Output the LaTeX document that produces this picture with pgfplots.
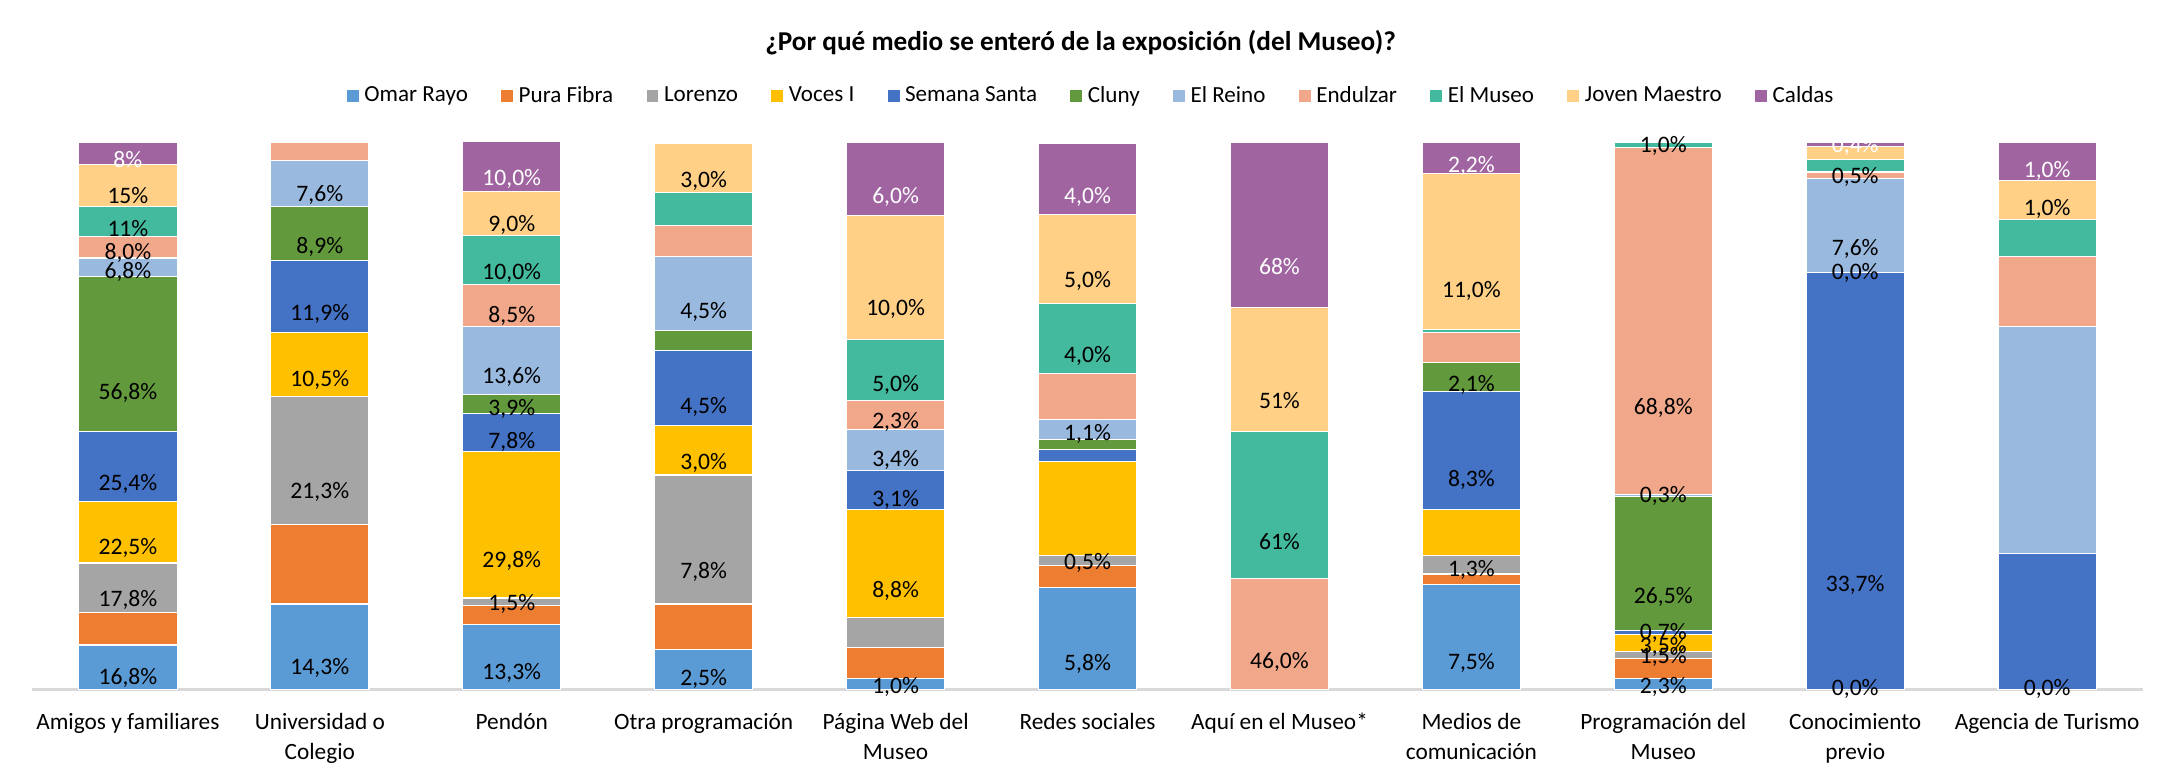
\documentclass[border=0pt]{standalone}
\usepackage{pgfplots}
\pgfplotsset{compat=1.18}
\usepackage{fontspec}
\setmainfont{Carlito}
\definecolor{cOmar}{HTML}{5B9BD5}
\definecolor{cPura}{HTML}{ED7D31}
\definecolor{cLor}{HTML}{A5A5A5}
\definecolor{cVoc}{HTML}{FFC000}
\definecolor{cSem}{HTML}{4472C4}
\definecolor{cClu}{HTML}{63993D}
\definecolor{cRei}{HTML}{99B9DE}
\definecolor{cEnd}{HTML}{F1A88A}
\definecolor{cMus}{HTML}{43B99D}
\definecolor{cJov}{HTML}{FFD086}
\definecolor{cCal}{HTML}{A065A0}
\definecolor{axgray}{HTML}{D9D9D9}
\begin{document}
\begin{tikzpicture}
\path[use as bounding box] (0,0) rectangle (780.1pt,279pt);
\begin{axis}[
  at={(11.5pt,30.85pt)}, anchor=south west,
  scale only axis, width=760pt, height=196.8pt,
  ybar stacked, bar width=35.4pt,
  xmin=-0.5, xmax=10.5, ymin=0, ymax=100,
  clip=false,
  axis y line=none,
  axis x line*=bottom,
  axis line style={draw=axgray, line width=0.9pt, -},
  xtick={0,...,10},
  xticklabels={Amigos y familiares, Universidad o\\Colegio, Pendón, Otra programación, Página Web del\\Museo, Redes sociales, Aquí en el Museo*, Medios de\\comunicación, Programación del\\Museo, Conocimiento\\previo, Agencia de Turismo},
  major tick length=0pt,
  xticklabel style={align=center, font=\fontsize{8.4}{10.8}\selectfont, yshift=-5pt, text=black},
  nodes near coords,
  point meta=explicit symbolic,
  visualization depends on=rawy \as \rawy,
  every node near coord/.append style={font=\fontsize{8.5}{10}\selectfont, anchor=center, yshift={-0.492pt*\rawy}, text=black, inner sep=0pt},
  legend style={at={(0.5026,1.085)}, anchor=center, draw=none, fill=none,
    legend columns=-1, font=\fontsize{8.3}{10}\selectfont,
    /tikz/every even column/.append style={column sep=10pt},
    /tikz/every odd column/.append style={column sep=0pt}},
  legend image code/.code={\fill[#1,draw=none] (0pt,-2.15pt) rectangle (4.3pt,2.15pt);},
  every axis plot/.append style={draw=white, line width=0.4pt},
]
% Omar Rayo
\addplot[fill=cOmar] coordinates {(0,8.1)[16,8\%] (1,15.6)[14,3\%] (2,11.8)[13,3\%] (3,7.3)[2,5\%] (4,2.0)[1,0\%] (5,18.6)[5,8\%] (6,0)[{}] (7,19.2)[7,5\%] (8,1.9)[2,3\%] (9,0.01)[0,0\%] (10,0.01)[0,0\%]};
% Pura Fibra
\addplot[fill=cPura] coordinates {(0,6.0)[{}] (1,14.6)[{}] (2,3.5)[{}] (3,8.3)[{}] (4,5.6)[{}] (5,4.1)[{}] (6,0)[{}] (7,1.9)[{}] (8,3.7)[{}] (9,0)[{}] (10,0)[{}]};
% Lorenzo
\addplot[fill=cLor] coordinates {(0,9.0)[17,8\%] (1,23.4)[21,3\%] (2,1.4)[1,5\%] (3,23.6)[7,8\%] (4,5.5)[{}] (5,1.7)[0,5\%] (6,0)[{}] (7,3.3)[1,3\%] (8,1.3)[1,5\%] (9,0)[{}] (10,0)[{}]};
% Voces I
\addplot[fill=cVoc] coordinates {(0,11.2)[22,5\%] (1,11.7)[10,5\%] (2,26.8)[29,8\%] (3,9.1)[3,0\%] (4,19.8)[8,8\%] (5,17.2)[{}] (6,0)[{}] (7,8.5)[{}] (8,3.2)[3,5\%] (9,0)[{}] (10,0)[{}]};
% Semana Santa
\addplot[fill=cSem] coordinates {(0,12.8)[25,4\%] (1,13.1)[11,9\%] (2,7.0)[7,8\%] (3,13.6)[4,5\%] (4,7.1)[3,1\%] (5,2.3)[{}] (6,0)[{}] (7,21.5)[8,3\%] (8,0.7)[0,7\%] (9,76.2)[33,7\%] (10,24.9)[{}]};
% Cluny
\addplot[fill=cClu] coordinates {(0,28.4)[56,8\%] (1,9.9)[8,9\%] (2,3.5)[3,9\%] (3,3.7)[{}] (4,0)[{}] (5,1.8)[{}] (6,0)[{}] (7,5.4)[2,1\%] (8,24.5)[26,5\%] (9,0.01)[0,0\%] (10,0)[{}]};
% El Reino
\addplot[fill=cRei] coordinates {(0,3.4)[6,8\%] (1,8.5)[7,6\%] (2,12.3)[13,6\%] (3,13.6)[4,5\%] (4,7.6)[3,4\%] (5,3.7)[1,1\%] (6,0)[{}] (7,0)[{}] (8,0.3)[0,3\%] (9,17.3)[7,6\%] (10,41.5)[{}]};
% Endulzar
\addplot[fill=cEnd] coordinates {(0,4.0)[8,0\%] (1,3.3)[{}] (2,7.7)[8,5\%] (3,5.6)[{}] (4,5.2)[2,3\%] (5,8.3)[{}] (6,20.2)[46,0\%] (7,5.4)[{}] (8,63.5)[68,8\%] (9,1.1)[0,5\%] (10,12.7)[{}]};
% El Museo
\addplot[fill=cMus] coordinates {(0,5.5)[11\%] (1,0)[{}] (2,9.0)[10,0\%] (3,6.0)[{}] (4,11.2)[5,0\%] (5,12.9)[4,0\%] (6,27.0)[61\%] (7,0.6)[{}] (8,0.9)[1,0\%] (9,2.3)[{}] (10,6.9)[{}]};
% Joven Maestro
\addplot[fill=cJov] coordinates {(0,7.6)[15\%] (1,0)[{}] (2,8.1)[9,0\%] (3,9.1)[3,0\%] (4,22.6)[10,0\%] (5,16.3)[5,0\%] (6,22.6)[51\%] (7,28.6)[11,0\%] (8,0)[{}] (9,2.3)[{}] (10,7.1)[1,0\%]};
% Caldas
\addplot[fill=cCal, every node near coord/.append style={text=white}] coordinates {(0,4.0)[8\%] (1,0)[{}] (2,9.1)[10,0\%] (3,0)[{}] (4,13.5)[6,0\%] (5,13.0)[4,0\%] (6,30.2)[68\%] (7,5.7)[2,2\%] (8,0)[{}] (9,0.9)[0,4\%] (10,7.0)[1,0\%]};
\legend{Omar Rayo, Pura Fibra, Lorenzo, Voces I, Semana Santa, Cluny, El Reino, Endulzar, El Museo, Joven Maestro, Caldas}
\end{axis}
\node[font=\fontsize{9.8}{12}\selectfont\bfseries] at (389pt,263.5pt) {¿Por qué medio se enteró de la exposición (del Museo)?};
\end{tikzpicture}
\end{document}
